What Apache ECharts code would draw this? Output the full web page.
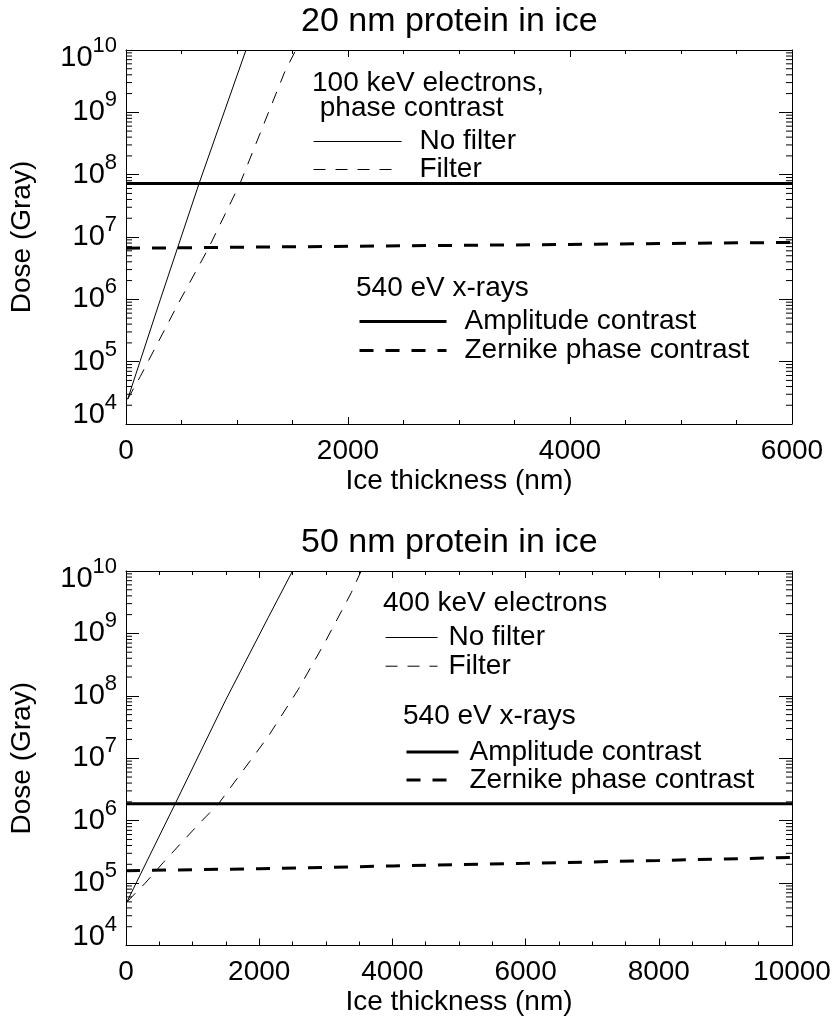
<!DOCTYPE html>
<html>
<head>
<meta charset="utf-8">
<script src="https://cdn.jsdelivr.net/npm/echarts@6/dist/echarts.min.js"></script>
<style>html,body{margin:0;padding:0;background:#fff}#c{width:835px;height:1020px}</style>
</head>
<body>
<div id="c"></div>
<script>
// ---------- data ----------
// Top panel: 20 nm protein in ice, 100 keV electrons
const topNoFilterX = [15, 308, 658, 1081];
const topNoFilterY = [2.5e4, 9.8e5, 7.2e7, 1e10];
const topFilterX = [15, 129, 473, 743, 1027, 1431, 1530];
const topFilterY = [2.5e4, 5.8e4, 8.7e5, 6.6e6, 7.2e7, 4.5e9, 1e10];
const topAmpX = [0, 6000];
const topAmpY = [7.2e7, 7.2e7];
const topZernX = [0, 2000, 4000, 6000];
const topZernY = [6.6e6, 7.1e6, 7.6e6, 8.2e6];

// Bottom panel: 50 nm protein in ice, 400 keV electrons
const botNoFilterX = [15, 115, 738, 1500, 2136, 2500];
const botNoFilterY = [5.0e4, 8.3e4, 1.86e6, 8.7e7, 1.8e9, 1e10];
const botFilterX = [15, 289, 564, 838, 1113, 1388, 2136, 2585, 2984, 3383, 3530];
const botFilterY = [5.0e4, 1.0e5, 2.16e5, 4.5e5, 9.3e5, 1.86e6, 2.24e7, 1.26e8, 7.1e8, 4.5e9, 1e10];
const botAmpX = [0, 10000];
const botAmpY = [1.86e6, 1.86e6];
const botZernX = [0, 2000, 4000, 6000, 8000, 10000];
const botZernY = [1.58e5, 1.7e5, 1.88e5, 2.07e5, 2.3e5, 2.58e5];

// axes
const topXRange = [0, 6000];
const botXRange = [0, 10000];
const xLabelStep = 2000;
const yRange = [1e4, 1e10];
const minorMultipliers = [2, 3, 4, 5, 6, 7, 8, 9];
const decades = [4, 5, 6, 7, 8, 9];

// text
const titles = ['20 nm protein in ice', '50 nm protein in ice'];
const xName = 'Ice thickness (nm)';
const yName = 'Dose (Gray)';
const topElecHead = '100 keV electrons,\n phase contrast';
const botElecHead = '400 keV electrons';
const xrayHead = '540 eV x-rays';
const names = ['No filter', 'Filter', 'Amplitude contrast', 'Zernike phase contrast'];

// ---------- build ----------
const FONT = 'Liberation Sans, Arial, Helvetica, sans-serif';
const zip = (xs, ys) => xs.map((x, i) => [x, ys[i]]);
const minorTicks = [];
decades.forEach(d => minorMultipliers.forEach(m => minorTicks.push(m * Math.pow(10, d))));

function xAxis(grid, range, pos, labels) {
  return {
    type: 'value', gridIndex: grid, position: pos, min: range[0], max: range[1], interval: xLabelStep,
    axisLine: {show: true, onZero: false, lineStyle: {color: '#000', width: 1}},
    axisTick: {show: true, inside: true, length: 7, lineStyle: {color: '#000'}},
    minorTick: {show: true, splitNumber: 4, length: 4, lineStyle: {color: '#000'}},
    splitLine: {show: false},
    axisLabel: {show: labels, color: '#000', fontSize: 28, fontFamily: FONT, margin: 13,
      formatter: v => String(v)},
    name: labels ? xName : '', nameLocation: 'middle', nameGap: 43,
    nameTextStyle: {color: '#000', fontSize: 28, fontFamily: FONT}
  };
}
const base = {fontSize: 29, fontFamily: FONT, color: '#000'};
const sup = {fontSize: 22, fontFamily: FONT, color: '#000'};
function yAxis(grid, pos, labels) {
  return {
    type: 'log', logBase: 10, gridIndex: grid, position: pos, min: yRange[0], max: yRange[1], splitNumber: 6,
    axisLine: {show: true, onZero: false, lineStyle: {color: '#000', width: 1}},
    axisTick: {show: true, inside: true, length: 13, lineStyle: {color: '#000'}},
    splitLine: {show: false},
    axisLabel: {
      show: labels, margin: 9, color: '#000',
      formatter: v => {
        const e = Math.round(Math.log10(v));
        const k = v <= yRange[0] ? 'l' : (v >= yRange[1] ? 'h' : 'n');
        return '{b' + k + '|10}{e' + k + '|' + e + '}';
      },
      rich: {
        bn: Object.assign({}, base),
        en: Object.assign({padding: [0, 0, 24, 0]}, sup),
        bl: Object.assign({padding: [0, 0, 18, 0]}, base),
        el: Object.assign({padding: [0, 0, 42, 0]}, sup),
        bh: Object.assign({padding: [16, 0, 0, 0]}, base),
        eh: Object.assign({padding: [0, 0, 8, 0]}, sup)
      }
    },
    name: labels ? yName : '', nameLocation: 'middle', nameGap: 90,
    nameTextStyle: {color: '#000', fontSize: 28, fontFamily: FONT}
  };
}
function line(name, data, xi, yi, width, dash) {
  return {
    type: 'line', name: name, data: data, xAxisIndex: xi, yAxisIndex: yi,
    symbol: 'none', showSymbol: false, silent: true, smooth: false,
    lineStyle: {color: '#000', width: width, type: dash || 'solid'},
    itemStyle: {color: '#000'}
  };
}
function minorSeries(xi, yi, x0) {
  return {
    type: 'custom', xAxisIndex: xi, yAxisIndex: yi, silent: true,
    data: minorTicks.map(v => [x0, v]),
    renderItem: function (params, api) {
      const p = api.coord([api.value(0), api.value(1)]);
      const cs = params.coordSys;
      const st = {stroke: '#000', lineWidth: 1};
      return {type: 'group', children: [
        {type: 'line', shape: {x1: cs.x, y1: p[1], x2: cs.x + 6, y2: p[1]}, style: st},
        {type: 'line', shape: {x1: cs.x + cs.width - 6, y1: p[1], x2: cs.x + cs.width, y2: p[1]}, style: st}
      ]};
    }
  };
}
function legend(left, top, data, itemWidth, padLeft, gap, lw) {
  return {
    orient: 'vertical', left: left, top: top, padding: 0, itemGap: gap,
    itemWidth: itemWidth, itemHeight: 14, data: data, selectedMode: false,
    itemStyle: {opacity: 0, borderWidth: 0},
    lineStyle: {width: lw},
    textStyle: {color: '#000', fontSize: 28, fontFamily: FONT, lineHeight: 15, padding: [0, 0, 10, padLeft]}
  };
}
function text(str, left, top, size) {
  return {text: str, left: left, top: top, padding: 0,
    textStyle: {color: '#000', fontSize: size, fontWeight: 'normal', fontFamily: FONT, lineHeight: size === 28 ? 25 : size}};
}

const option = {
  animation: false,
  backgroundColor: '#fff',
  title: [
    text(titles[0], 301, 5, 34),
    text(titles[1], 301, 526, 34),
    text(topElecHead, 312, 71, 28),
    text(xrayHead, 356, 276, 28),
    text(botElecHead, 383, 591, 28),
    text(xrayHead, 403, 704, 28)
  ],
  legend: [
    legend(313, 127.5, [names[0], names[1]], 88, 13, 0, 1),
    legend(358, 307.5, [names[2], names[3]], 87, 13, 1, 3),
    legend(385, 623.5, [names[0], names[1]], 52, 6, 0.7, 1),
    legend(405, 738, [names[2], names[3]], 52, 6, 0, 3)
  ],
  grid: [
    {left: 124, top: 50, width: 668, height: 374, containLabel: false},
    {left: 124, top: 571, width: 668, height: 374.5, containLabel: false}
  ],
  xAxis: [
    xAxis(0, topXRange, 'bottom', true), xAxis(0, topXRange, 'top', false),
    xAxis(1, botXRange, 'bottom', true), xAxis(1, botXRange, 'top', false)
  ],
  yAxis: [
    yAxis(0, 'left', true), yAxis(0, 'right', false),
    yAxis(1, 'left', true), yAxis(1, 'right', false)
  ],
  series: [
    line(names[0], zip(topNoFilterX, topNoFilterY), 0, 0, 1),
    line(names[1], zip(topFilterX, topFilterY), 0, 0, 1, [12, 10]),
    line(names[2], zip(topAmpX, topAmpY), 0, 0, 3),
    line(names[3], zip(topZernX, topZernY), 0, 0, 3, [14, 12]),
    line(names[0], zip(botNoFilterX, botNoFilterY), 2, 2, 1),
    line(names[1], zip(botFilterX, botFilterY), 2, 2, 1, [12, 10]),
    line(names[2], zip(botAmpX, botAmpY), 2, 2, 3),
    line(names[3], zip(botZernX, botZernY), 2, 2, 3, [14, 12]),
    minorSeries(0, 0, topXRange[0]),
    minorSeries(2, 2, botXRange[0])
  ]
};
const chart = echarts.init(document.getElementById('c'), null, {renderer: 'canvas'});
chart.setOption(option);
</script>
</body>
</html>
